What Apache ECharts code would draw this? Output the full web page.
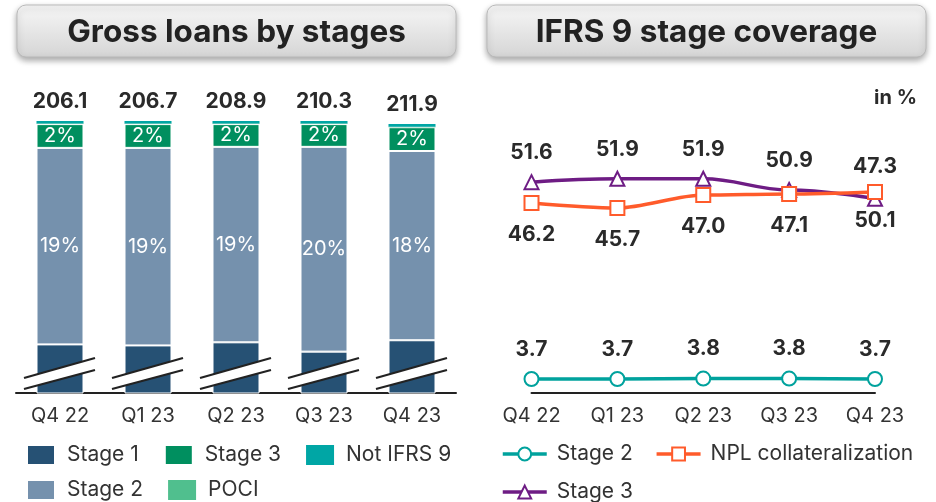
<!DOCTYPE html>
<html>
<head>
<meta charset="utf-8">
<title>Gross loans and IFRS 9 stage coverage</title>
<script src="https://cdn.jsdelivr.net/npm/echarts@6/dist/echarts.min.js"></script>
<style>
  html, body { margin: 0; padding: 0; background: #fff; }
  #wrap { position: relative; width: 936px; height: 502px; }
  .panel { position: absolute; left: 0; top: 0; width: 936px; height: 502px; }
</style>
</head>
<body>
<div id="wrap">
  <div id="loans" class="panel"></div>
  <div id="coverage" class="panel"></div>
</div>
<script>
// Quarters shown on both panels
const quarters = ['Q4 22', 'Q1 23', 'Q2 23', 'Q3 23', 'Q4 23'];

// Gross loans, EUR bn (printed above each bar)
const grossTotals = [206.1, 206.7, 208.9, 210.3, 211.9];

// Share of gross loans by stage, %
const stage1Share   = [78.4, 78.3, 78.6, 77.7, 78.8];
const stage2Share   = [19.0, 19.1, 18.9, 19.8, 18.3];
const stage3Share   = [2.3, 2.3, 2.2, 2.2, 2.3];
const pociShare     = [0.05, 0.05, 0.05, 0.05, 0.05];
const notIfrs9Share = [0.25, 0.25, 0.25, 0.25, 0.25];

// Coverage ratios, %
const coverageStage2 = [3.7, 3.7, 3.8, 3.8, 3.7];
const coverageStage3 = [51.6, 51.9, 51.9, 50.9, 50.1];
const nplCollateral  = [46.2, 45.7, 47.0, 47.1, 47.3];

const FONT = 'Inter, "Noto Sans", Roboto, sans-serif';
const INK = '#2a2a2a';

const COLORS = {
  stage1: '#265174',
  stage2: '#7591ad',
  stage3: '#008f5f',
  poci: '#50bf8e',
  notIfrs9: '#00a6a5',
  covStage2: '#00a29d',
  covStage3: '#6e1c84',
  npl: '#ff5b2b'
};

// Rounded grey header plate with a soft drop shadow
function headerPlate(x, w, text) {
  return {
    type: 'group',
    children: [
      {
        type: 'rect',
        shape: { x: x, y: 5, width: w, height: 52, r: 9 },
        style: {
          fill: new echarts.graphic.LinearGradient(0, 0, 0, 1, [
            { offset: 0, color: '#f7f7f7' },
            { offset: 1, color: '#d5d5d5' }
          ]),
          stroke: '#b9b9b9',
          lineWidth: 1,
          shadowBlur: 6,
          shadowOffsetY: 3,
          shadowColor: 'rgba(0,0,0,0.35)'
        }
      },
      {
        type: 'text',
        x: x + w / 2,
        y: 33,
        style: {
          text: text,
          fill: '#222',
          fontFamily: FONT,
          fontSize: 31.5,
          fontWeight: 'bold',
          align: 'center',
          verticalAlign: 'middle'
        }
      }
    ]
  };
}

const axisX = {
  type: 'category',
  data: quarters,
  axisLine: { lineStyle: { color: '#222', width: 2 } },
  axisTick: { show: false },
  axisLabel: { color: '#333', fontSize: 20, margin: 13, fontFamily: FONT }
};

// ---------- Left panel: stacked shares with a cut Stage 1 segment ----------
const barStyle = (color) => ({ color: color, borderColor: '#fff', borderWidth: 1 });
const shareLabel = {
  show: true,
  position: 'inside',
  color: '#fff',
  fontSize: 20,
  fontFamily: FONT,
  formatter: (p) => Math.round(p.value) + '%'
};

const loansChart = echarts.init(document.getElementById('loans'), null, { renderer: 'canvas' });
loansChart.setOption({
  animation: false,
  textStyle: { fontFamily: FONT },
  graphic: [headerPlate(17, 439, 'Gross loans by stages')],
  grid: { left: 16, width: 440, top: 121, height: 272 },
  xAxis: axisX,
  yAxis: { type: 'value', min: 73.7, max: 100, show: false },
  legend: {
    left: 26,
    top: 444,
    width: 470,
    padding: 0,
    icon: 'rect',
    itemWidth: 28,
    itemHeight: 20,
    itemGap: 13,
    data: ['Stage 1', 'Stage 3', 'Not IFRS 9', 'Stage 2', 'POCI'],
    textStyle: { fontSize: 21, color: '#333', fontFamily: FONT, lineHeight: 22, padding: [0, 12, 0, 7] }
  },
  series: [
    { name: 'Stage 1', type: 'bar', stack: 'share', barWidth: 47, data: stage1Share, itemStyle: barStyle(COLORS.stage1) },
    { name: 'Stage 2', type: 'bar', stack: 'share', barWidth: 47, data: stage2Share, itemStyle: barStyle(COLORS.stage2), label: shareLabel },
    { name: 'Stage 3', type: 'bar', stack: 'share', barWidth: 47, data: stage3Share, itemStyle: barStyle(COLORS.stage3), label: shareLabel },
    { name: 'POCI', type: 'bar', stack: 'share', barWidth: 47, data: pociShare, itemStyle: { color: COLORS.poci } },
    {
      name: 'Not IFRS 9', type: 'bar', stack: 'share', barWidth: 47, data: notIfrs9Share,
      itemStyle: { color: COLORS.notIfrs9 },
      label: {
        show: true,
        position: 'top',
        distance: 9,
        color: INK,
        fontSize: 21,
        fontWeight: 'bold',
        fontFamily: FONT,
        formatter: (p) => grossTotals[p.dataIndex].toFixed(1)
      }
    },
    {
      // Axis-break marks across the bottom of each bar
      name: 'axis break',
      type: 'custom',
      silent: true,
      z: 10,
      data: quarters.map((q, i) => [i]),
      encode: { x: 0 },
      renderItem: (params, api) => {
        const cx = api.coord([api.value(0), 80])[0];
        const base = params.coordSys.y + params.coordSys.height;
        const a1 = [cx - 36, base - 15], b1 = [cx + 35, base - 35];
        const a2 = [cx - 36, base - 4],  b2 = [cx + 35, base - 23];
        const stroke = { stroke: '#222', lineWidth: 2.2 };
        return {
          type: 'group',
          children: [
            { type: 'polygon', shape: { points: [a1, b1, b2, a2] }, style: { fill: '#fff' } },
            { type: 'line', shape: { x1: a1[0], y1: a1[1], x2: b1[0], y2: b1[1] }, style: stroke },
            { type: 'line', shape: { x1: a2[0], y1: a2[1], x2: b2[0], y2: b2[1] }, style: stroke }
          ]
        };
      }
    }
  ]
});

// ---------- Right panel: coverage lines, each on its own hidden scale ----------
const valueLabel = (position, distance) => ({
  show: true,
  position: position,
  distance: distance,
  color: INK,
  fontSize: 21,
  fontWeight: 'bold',
  fontFamily: FONT,
  formatter: (p) => Number(p.value).toFixed(1)
});

const lastIdx = quarters.length - 1;
const stage3Points = coverageStage3.map((v, i) =>
  i === lastIdx ? { value: v, label: { position: 'bottom', distance: 3 } } : v);
const nplPoints = nplCollateral.map((v, i) =>
  i === lastIdx ? { value: v, label: { position: 'top', distance: 7 } } : v);

const coverageChart = echarts.init(document.getElementById('coverage'), null, { renderer: 'canvas' });
coverageChart.setOption({
  animation: false,
  textStyle: { fontFamily: FONT },
  graphic: [
    headerPlate(487, 439, 'IFRS 9 stage coverage'),
    {
      type: 'text',
      right: 19,
      top: 88,
      style: { text: 'in %', fill: INK, fontFamily: FONT, fontSize: 20, fontWeight: 'bold' }
    }
  ],
  grid: { left: 531.5, right: 61, top: 100, height: 293 },
  xAxis: Object.assign({}, axisX, { boundaryGap: false }),
  yAxis: [
    { type: 'value', min: 0, max: 77.4, show: false },
    { type: 'value', min: 32.6, max: 59.0, show: false },
    { type: 'value', min: 27.2, max: 56.5, show: false }
  ],
  legend: {
    left: 501,
    top: 443,
    width: 430,
    padding: 0,
    itemWidth: 44,
    itemHeight: 16,
    itemGap: 16,
    lineStyle: { width: 3.5 },
    data: ['Stage 2', 'NPL collateralization', 'Stage 3'],
    textStyle: { fontSize: 21, color: '#333', fontFamily: FONT, lineHeight: 22, padding: [0, 6, 0, 5] }
  },
  series: [
    {
      name: 'Stage 2', type: 'line', yAxisIndex: 0, data: coverageStage2,
      symbol: 'emptyCircle', symbolSize: 14,
      lineStyle: { width: 3.5, color: COLORS.covStage2 },
      itemStyle: { color: COLORS.covStage2, borderWidth: 2 },
      label: valueLabel('top', 11)
    },
    {
      name: 'Stage 3', type: 'line', yAxisIndex: 1, data: stage3Points,
      smooth: 0.4, smoothMonotone: 'x',
      symbol: 'emptyTriangle', symbolSize: 14,
      lineStyle: { width: 3.5, color: COLORS.covStage3 },
      itemStyle: { color: COLORS.covStage3, borderWidth: 2 },
      label: valueLabel('top', 11)
    },
    {
      name: 'NPL collateralization', type: 'line', yAxisIndex: 2, data: nplPoints,
      smooth: 0.3, smoothMonotone: 'x',
      symbol: 'emptyRect', symbolSize: 14,
      lineStyle: { width: 3.5, color: COLORS.npl },
      itemStyle: { color: COLORS.npl, borderWidth: 2 },
      label: valueLabel('bottom', 13)
    }
  ]
});
</script>
</body>
</html>
